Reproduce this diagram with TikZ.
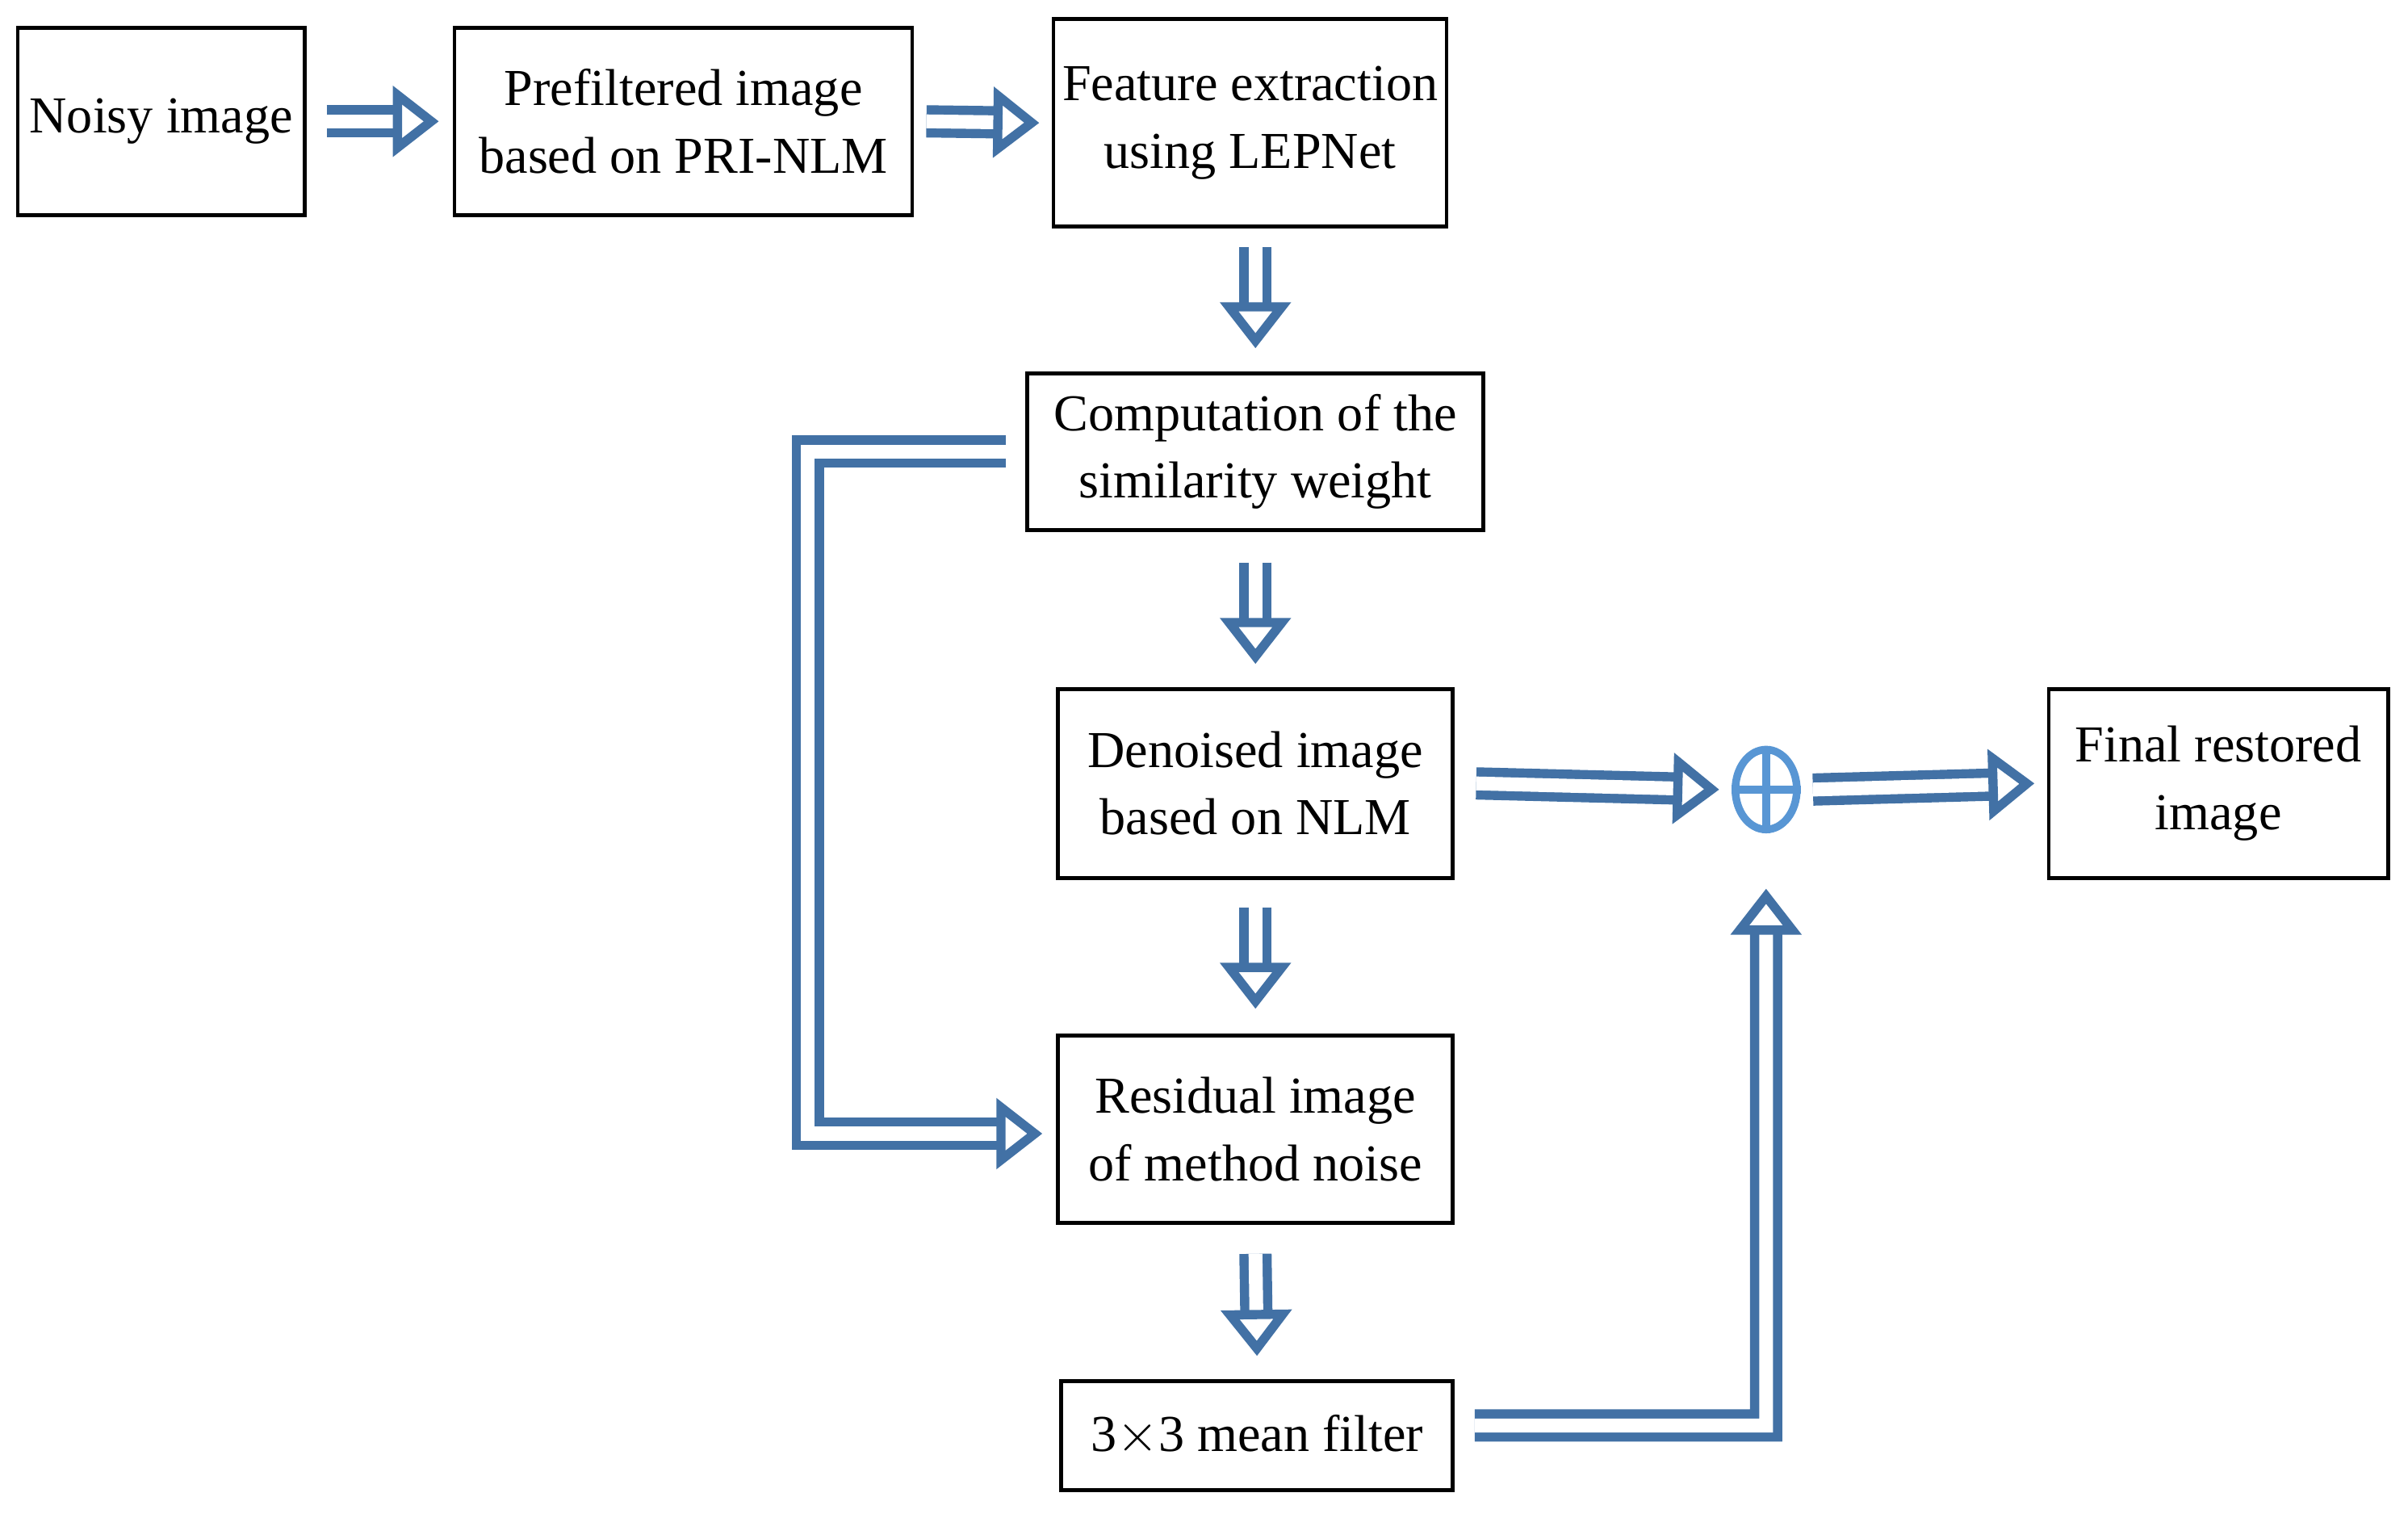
\documentclass[tikz,border=0pt]{standalone}
\usepackage{fontspec}
\setmainfont{Liberation Serif}
\usetikzlibrary{arrows.meta,shapes.geometric}
\definecolor{arrowblue}{RGB}{66,113,165}
\definecolor{sumblue}{RGB}{88,150,212}
\begin{document}
\begin{tikzpicture}[font=\fontsize{9.6}{12.5}\selectfont]
        \tikzstyle{block}=[draw,line width=0.7pt,align=center,inner sep=0pt]
        \tikzstyle{flow}=[draw=arrowblue,line width=0.06cm,double=white,double distance=0.09cm,
            -{Triangle[open,fill=white,length=0.3cm,width=0.45cm]}]

        \useasboundingbox (0,0) rectangle (15.68,-9.88);

        \node[block,minimum width=1.87cm,minimum height=1.22cm](noisy) at (1.05,-0.79){Noisy image};
        \node[block,minimum width=2.98cm,minimum height=1.22cm](pre) at (4.45,-0.79){Prefiltered image\\based on PRI-NLM};
        \node[block,minimum width=2.56cm,minimum height=1.35cm](feat) at (8.14,-0.80){Feature extraction\\using LEPNet};
        \node[block,minimum width=2.97cm,minimum height=1.02cm](comp) at (8.175,-2.94){Computation of the\\similarity weight};
        \node[block,minimum width=2.57cm,minimum height=1.23cm](den) at (8.175,-5.10){Denoised image\\based on NLM};
        \node[block,minimum width=2.57cm,minimum height=1.22cm](res) at (8.175,-7.35){Residual image\\of method noise};
        \node[block,minimum width=2.55cm,minimum height=0.71cm](mean) at (8.185,-9.345){3$\times$3 mean filter};
        \node[block,minimum width=2.21cm,minimum height=1.23cm](final) at (14.445,-5.10){Final restored\\image};

        \node[draw=sumblue,line width=0.05cm,ellipse,minimum width=0.4cm,minimum height=0.52cm,inner sep=0pt](sum) at (11.5,-5.14){};
        \draw[sumblue,line width=0.05cm] (sum.north) -- (sum.south) (sum.west) -- (sum.east);

        \coordinate (c1) at (5.26,-2.94);
        \coordinate (c2) at (5.26,-7.38);
        \coordinate (m1) at (11.5,-9.28);

        \draw[flow] ([xshift=0.13cm]noisy.east) -- ([xshift=-0.09cm]pre.west);
        \draw[flow] ([xshift=0.08cm]pre.east) -- ([xshift=-0.08cm]feat.west);
        \draw[flow] ([yshift=-0.12cm]feat.south -| comp.north) -- ([yshift=0.15cm]comp.north);
        \draw[flow] ([yshift=-0.2cm]comp.south) -- ([yshift=0.15cm]den.north);
        \draw[flow] ([yshift=-0.18cm]den.south) -- ([yshift=0.16cm]res.north);
        \draw[flow] ([yshift=-0.19cm]res.south) -- ([yshift=0.15cm]mean.north);
        \draw[flow] ([xshift=0.14cm]den.east) -- ([xshift=-0.08cm]sum.west);
        \draw[flow] ([xshift=0.08cm]sum.east) -- ([xshift=-0.08cm]final.west);
        \draw[flow] ([xshift=-0.13cm]comp.west) -- (c1) -- (c2) -- ([xshift=-0.09cm]res.west |- c2);
        \draw[flow] ([xshift=0.13cm,yshift=0.065cm]mean.east) -- (m1) -- ([yshift=-0.36cm]sum.south);

    \end{tikzpicture}
\end{document}
